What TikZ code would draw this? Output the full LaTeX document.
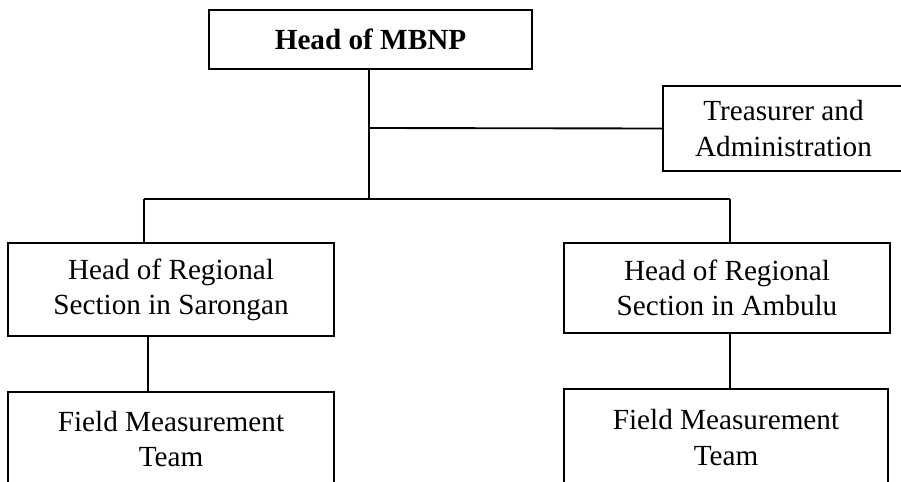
\documentclass[tikz,border=0pt]{standalone}
\usepackage{fontspec}
\setmainfont{Liberation Serif}
\usetikzlibrary{positioning, calc}

\begin{document}
\begin{tikzpicture}[
  x=0.75pt, y=-0.75pt,
  unit/.style 2 args={rectangle, draw=black, line width=1.4pt, inner sep=0pt, align=center,
    minimum width=#1*0.75pt, minimum height=#2*0.75pt,
    font=\fontsize{21.9}{26.3}\selectfont},
  link/.style={line width=1.4pt, draw=black}
]
  \useasboundingbox (0,0) rectangle (901,482);
  \clip (0,0) rectangle (901,482);

  \node[unit={323}{59}, font=\fontsize{21.9}{26.3}\selectfont\bfseries] (head) at (370.5,39.5) {Head of MBNP};
  \node[unit={241}{85}] (treas) at (783.5,128.5) {Treasurer and\\Administration};
  \node[unit={326}{93}] (sar) at (171,289.5) {Head of Regional\\Section in Sarongan};
  \node[unit={326}{90}] (amb) at (727,288) {Head of Regional\\Section in Ambulu};
  \node[unit={326}{94}] (fieldL) at (171,439) {Field Measurement\\Team};
  \node[unit={324}{97}] (fieldR) at (726,437.5) {Field Measurement\\Team};

  % bus lines
  \coordinate (bus) at (369,199);
  \coordinate (busL) at (144,199);
  \coordinate (busR) at (730,199);
  \coordinate (tap) at (369,128);

  \draw[link] (head.south -| bus) -- (bus);
  \draw[link] (tap) -- (treas.west);
  \draw[link] (busL) -- (busR);
  \draw[link] (busL) -- (busL |- sar.north);
  \draw[link] (busR) -- (busR |- amb.north);
  \draw[link] (sar.south -| 148,0) -- (fieldL.north -| 148,0);
  \draw[link] (amb.south -| busR) -- (fieldR.north -| busR);
\end{tikzpicture}
\end{document}
